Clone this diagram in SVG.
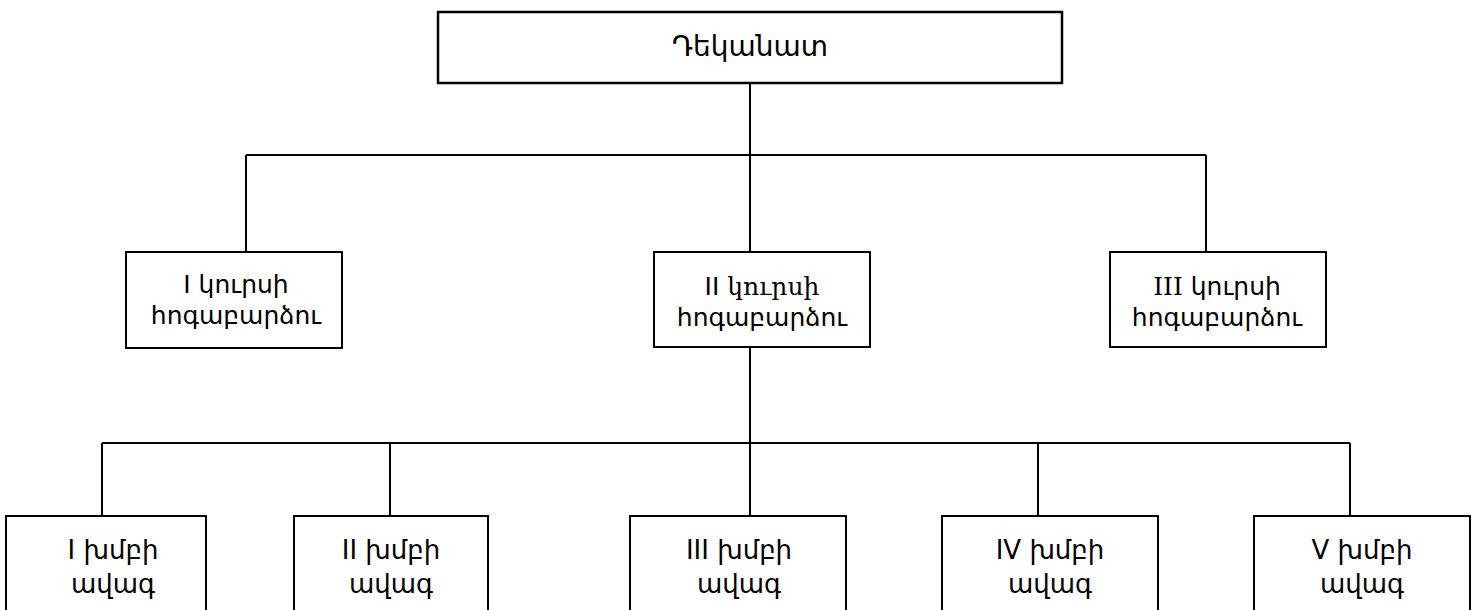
<svg xmlns="http://www.w3.org/2000/svg" width="1476" height="610" viewBox="0 0 1476 610">
  <style>
    .box { fill: #ffffff; stroke: #000000; stroke-width: 2; }
    .top { stroke-width: 2.5; }
    .link { fill: none; stroke: #000000; stroke-width: 2; }
    text { font-family: "DejaVu Sans", "Noto Sans", sans-serif; font-size: 25px; fill: #000000; text-anchor: middle; }
    .title { font-size: 28px; }
    .grp { font-size: 26px; }
    .serif { font-family: "DejaVu Serif", "Liberation Serif", serif; }
  </style>
  <rect width="1476" height="610" fill="#ffffff"/>

  <!-- connectors -->
  <g id="connectors">
    <path class="link" d="M750 83 V155 M246 155 H1206 M246 155 V252 M750 155 V252 M1206 155 V252"/>
    <path class="link" d="M750 347 V443 M102 443 H1350 M102 443 V516 M390 443 V516 M750 443 V516 M1038 443 V516 M1350 443 V516"/>
  </g>

  <!-- dean's office -->
  <g id="dekanat">
    <rect class="box top" x="438" y="12" width="624" height="71"/>
    <text class="title" x="750" y="56">Դեկանատ</text>
  </g>

  <!-- course supervisors -->
  <g id="kurs1">
    <rect class="box" x="126" y="252" width="216" height="96"/>
    <text x="236" y="293">I կուրսի</text>
    <text x="236" y="324">հոգաբարձու</text>
  </g>
  <g id="kurs2">
    <rect class="box" x="654" y="252" width="216" height="95"/>
    <text x="762" y="295">II <tspan class="serif">կուրսի</tspan></text>
    <text x="762" y="326">հոգաբարձու</text>
  </g>
  <g id="kurs3">
    <rect class="box" x="1110" y="252" width="216" height="95"/>
    <text x="1217" y="295"><tspan class="serif">III</tspan> կուրսի</text>
    <text x="1217" y="326">հոգաբարձու</text>
  </g>

  <!-- group leaders -->
  <g id="group1">
    <rect class="box" x="6" y="516" width="200" height="100"/>
    <text class="grp" x="113" y="559">I խմբի</text>
    <text class="grp" x="113" y="593">ավագ</text>
  </g>
  <g id="group2">
    <rect class="box" x="294" y="516" width="194" height="100"/>
    <text class="grp" x="391" y="559">II խմբի</text>
    <text class="grp" x="391" y="593">ավագ</text>
  </g>
  <g id="group3">
    <rect class="box" x="630" y="516" width="216" height="100"/>
    <text class="grp" x="739" y="559">III խմբի</text>
    <text class="grp" x="739" y="593">ավագ</text>
  </g>
  <g id="group4">
    <rect class="box" x="942" y="516" width="216" height="100"/>
    <text class="grp" x="1050" y="559">IV խմբի</text>
    <text class="grp" x="1050" y="593">ավագ</text>
  </g>
  <g id="group5">
    <rect class="box" x="1254" y="516" width="216" height="100"/>
    <text class="grp" x="1362" y="559">V խմբի</text>
    <text class="grp" x="1362" y="593">ավագ</text>
  </g>
</svg>
